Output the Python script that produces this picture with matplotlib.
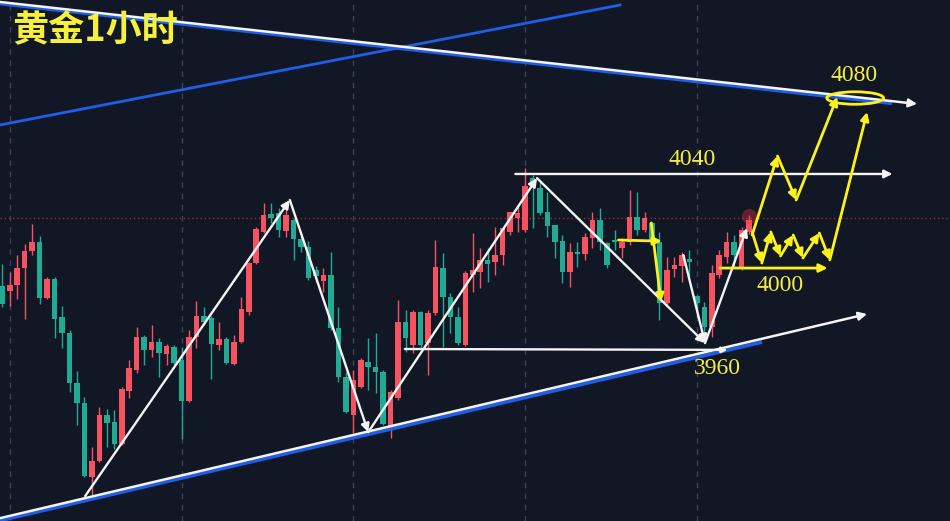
import matplotlib
matplotlib.use("Agg")
import matplotlib.pyplot as plt
from matplotlib.patches import Ellipse

# K线数据 (开, 高, 低, 收), 1小时
opens = [3988.8, 3986.5, 3989.2, 3997.0, 4004.8, 4008.9, 3983.3, 3992.0, 3974.6, 3967.3,
         3944.4, 3935.3, 3901.5, 3908.8, 3929.8, 3926.6, 3916.5, 3940.8, 3950.4, 3965.5,
         3959.5, 3963.2, 3957.7, 3960.9, 3955.0, 3936.2, 3965.5, 3975.1, 3974.1, 3961.8,
         3964.5, 3953.1, 3963.2, 3976.9, 3999.3, 4013.5, 4021.7, 4022.1, 4013.9, 4018.9,
         4010.3, 4006.6, 3996.1, 3991.1, 3993.8, 3969.6, 3947.2, 3929.8, 3942.6, 3954.0,
         3951.8, 3949.5, 3922.9, 3937.6, 3972.3, 3961.8, 3976.9, 3962.7, 3976.4, 3997.0,
         3983.7, 3974.6, 3961.8, 3993.8, 3995.2, 4000.7, 3999.7, 4003.0, 4013.5, 4019.9,
         4014.4, 4038.1, 4033.6, 4022.6, 4016.7, 4009.3, 3995.2, 4004.3, 4003.4, 4010.7,
         4018.9, 4008.4, 4009.8, 4006.1, 4008.9, 4020.3, 4014.4, 4017.6, 4008.9, 3981.0,
         3996.5, 3997.9, 4001.1, 3984.2, 3979.2, 3970.0, 3993.8, 4002.0, 4008.9, 3997.0,
         4013.5]
highs = [3998.8, 3995.2, 4003.0, 4008.0, 4017.1, 4011.6, 3992.9, 3992.9, 3979.6, 3968.7,
         3949.9, 3938.0, 3915.2, 3933.5, 3932.5, 3932.1, 3942.6, 3955.0, 3970.0, 3966.4,
         3970.9, 3965.0, 3962.3, 3961.8, 3960.9, 3968.7, 3981.9, 3979.2, 3975.1, 3972.3,
         3965.5, 3966.4, 3983.7, 3999.7, 4015.7, 4026.7, 4026.7, 4024.4, 4024.9, 4019.9,
         4011.6, 4009.3, 3997.9, 3997.0, 4004.3, 3979.2, 3949.5, 3950.4, 3955.9, 3965.0,
         3967.3, 3950.4, 3941.2, 3982.4, 3977.8, 3977.8, 3977.3, 3977.8, 4009.8, 4003.9,
         3985.6, 3979.2, 3995.6, 4013.0, 4006.1, 4006.1, 4015.7, 4015.3, 4022.6, 4025.8,
         4042.7, 4039.5, 4036.3, 4031.7, 4016.7, 4012.1, 4008.4, 4008.9, 4013.0, 4022.6,
         4024.4, 4008.9, 4014.4, 4010.7, 4032.7, 4031.7, 4022.6, 4018.0, 4013.5, 4002.0,
         4002.0, 4004.3, 4005.2, 3984.6, 3981.5, 3998.4, 4005.2, 4013.5, 4012.1, 4015.7,
         4021.2]
lows = [3979.2, 3979.6, 3982.8, 3973.7, 4003.0, 3980.5, 3982.8, 3965.0, 3960.4, 3940.3,
        3925.2, 3901.5, 3893.2, 3908.3, 3915.2, 3914.3, 3916.1, 3937.6, 3949.0, 3952.7,
        3956.3, 3947.2, 3952.7, 3952.7, 3918.8, 3935.7, 3960.4, 3970.9, 3946.3, 3959.5,
        3953.1, 3952.7, 3962.7, 3975.5, 3998.8, 4013.0, 4017.6, 4011.2, 4011.2, 4000.7,
        4004.3, 3991.5, 3990.6, 3986.0, 3968.7, 3944.9, 3930.7, 3921.6, 3942.1, 3941.2,
        3939.9, 3925.2, 3919.3, 3936.7, 3958.6, 3958.1, 3960.9, 3948.1, 3975.5, 3960.9,
        3967.3, 3961.8, 3961.3, 3986.0, 3987.9, 3990.6, 3993.8, 3998.4, 4012.1, 4013.5,
        4013.5, 4015.3, 4021.2, 4011.2, 4001.6, 3990.1, 3988.3, 3997.5, 4000.7, 4006.1,
        4005.2, 3997.0, 4005.2, 4001.6, 4007.5, 4012.1, 4013.5, 4008.4, 3973.2, 3980.1,
        3992.9, 3990.6, 3992.9, 3974.6, 3966.4, 3965.5, 3992.4, 3999.3, 3997.5, 3996.1,
        4012.5]
closes = [3980.5, 3989.2, 3997.0, 4004.8, 4008.9, 3983.3, 3992.0, 3973.7, 3967.3, 3944.4,
          3935.3, 3901.9, 3908.8, 3929.8, 3926.1, 3916.5, 3941.7, 3951.3, 3965.5, 3959.5,
          3963.2, 3958.1, 3961.3, 3953.6, 3936.2, 3965.5, 3975.1, 3972.3, 3962.3, 3964.5,
          3953.6, 3963.2, 3978.3, 3999.3, 4014.8, 4021.2, 4019.9, 4014.4, 4021.2, 4010.3,
          4006.6, 3992.4, 3993.3, 3993.8, 3969.6, 3947.2, 3931.2, 3945.8, 3955.0, 3951.8,
          3949.5, 3925.7, 3940.3, 3972.3, 3965.0, 3976.9, 3961.8, 3976.4, 3997.5, 3983.7,
          3974.6, 3962.7, 3994.7, 3996.1, 4000.7, 3998.8, 4003.0, 4015.3, 4022.6, 4022.1,
          4034.5, 4034.5, 4022.1, 4016.2, 4008.9, 3995.2, 4004.3, 4003.4, 4011.2, 4018.9,
          4008.9, 3998.4, 4008.9, 4008.9, 4020.3, 4014.4, 4019.9, 4008.9, 3981.0, 3996.1,
          3998.4, 4003.0, 3999.7, 3981.0, 3970.0, 3994.7, 4003.0, 4008.9, 4003.0, 4014.4,
          4018.9]

last_price = 4019.9
grid_idx = [1, 24, 47, 70, 93]

# 趋势线 (K线序号, 价格)
top_white_x = [-0.3, 122.5]
top_white_y = [4118.6, 4072.0]
top_blue_x = [-0.3, 118.9]
top_blue_y = [4117.8, 4072.3]
up_blue_x = [-0.3, 82.7]
up_blue_y = [4062.4, 4117.2]
low_white_x = [-0.3, 115.8]
low_white_y = [3882.7, 3976.0]
low_blue_x = [-0.3, 101.5]
low_blue_y = [3881.6, 3963.0]

# 白色走势箭头
wave_x = [11.1, 38.5, 49.0, 71.6, 94.1, 99.7]
wave_y = [3892.8, 4028.1, 3922.0, 4038.1, 3962.7, 4015.3]
sub_x = [91.2, 94.1]
sub_y = [4002.9, 3962.7]
res_x = [68.7, 119.2]
res_y = [4040.0, 4040.0]
sup_x = [53.9, 97.1]
sup_y = [3960.0, 3959.6]

# 黄色预测路径
ys_x = [82.5, 88.3]
ys_y = [4009.8, 4009.3]
yd_x = [86.9, 88.2]
yd_y = [4017.6, 3981.5]
y4000_x = [96.1, 110.5]
y4000_y = [3997.0, 3997.0]
low_path_x = [100.4, 101.7, 102.9, 104.2, 105.9, 107.2, 109.4, 110.8, 115.8]
low_path_y = [4013.5, 3999.3, 4013.5, 4002.5, 4012.1, 4001.6, 4013.0, 4000.7, 4068.3]
up_path_x = [100.4, 103.8, 106.3, 111.8]
up_path_y = [4012.1, 4048.2, 4028.1, 4075.2]

labels = ["4080", "4040", "4000", "3960"]
label_x = [114.1, 92.4, 104.1, 95.7]
label_y = [4085.2, 4046.8, 3989.2, 3951.3]

bg = "#111725"
up_c = "#f7525f"
dn_c = "#22ab94"
yel = "#fbf21c"
white = "#f4f4f4"

fig = plt.figure(figsize=(9.5, 5.21), dpi=100)
fig.patch.set_facecolor(bg)
ax = fig.add_axes([0, 0, 1, 1])
ax.set_facecolor(bg)
ax.set_xlim(-0.308, 126.9)
ax.set_ylim(3881.4, 4119.5)
ax.axis("off")

for g in grid_idx:
    ax.axvline(g, color="#3a4150", lw=1, ls=(0, (4, 4)), zorder=0)
ax.axhline(last_price, color="#c0392b", lw=1, ls=(0, (1, 2)), alpha=0.8, zorder=1)

for i in range(len(opens)):
    o, h, l, c = opens[i], highs[i], lows[i], closes[i]
    col = up_c if c >= o else dn_c
    ax.vlines(i, l, h, color=col, lw=1, zorder=2)
    bot = min(o, c)
    ht = max(abs(c - o), 0.6)
    ax.bar(i, ht, 0.74, bottom=bot, color=col, lw=0, zorder=3)

# 最新价光点
ax.scatter([100], [4021.0], s=120, color="#ff3040", alpha=0.35, lw=0, zorder=4)

ax.plot(top_blue_x, top_blue_y, color="#1f5fe8", lw=2.4, zorder=5)
ax.plot(up_blue_x, up_blue_y, color="#1f5fe8", lw=2.0, zorder=5)
ax.plot(low_blue_x, low_blue_y, color="#1f5fe8", lw=2.6, zorder=5)


def arrow(x0, y0, x1, y1, col, lw=1.7, ms=12):
    ax.annotate("", xy=(x1, y1), xytext=(x0, y0),
                arrowprops=dict(arrowstyle="-|>", color=col, lw=lw,
                                mutation_scale=ms, shrinkA=0, shrinkB=0),
                zorder=6)


def path(xs, ys, col, lw=1.7):
    for k in range(len(xs) - 1):
        arrow(xs[k], ys[k], xs[k + 1], ys[k + 1], col, lw)


arrow(top_white_x[0], top_white_y[0], top_white_x[1], top_white_y[1], white, 1.8)
arrow(low_white_x[0], low_white_y[0], low_white_x[1], low_white_y[1], white, 1.8)
path(wave_x, wave_y, white)
arrow(sub_x[0], sub_y[0], sub_x[1], sub_y[1], white)
arrow(res_x[0], res_y[0], res_x[1], res_y[1], white)
arrow(sup_x[0], sup_y[0], sup_x[1], sup_y[1], white, 1.7, 8)

arrow(ys_x[0], ys_y[0], ys_x[1], ys_y[1], yel, 2.0)
arrow(yd_x[0], yd_y[0], yd_x[1], yd_y[1], yel, 2.0)
arrow(y4000_x[0], y4000_y[0], y4000_x[1], y4000_y[1], yel, 2.0)
path(low_path_x, low_path_y, yel, 2.0)
path(up_path_x, up_path_y, yel, 2.0)

ax.add_patch(Ellipse((114.2, 4074.7), 7.6, 5.7, fill=False, ec=yel, lw=2.0, zorder=7))

for t, x, y in zip(labels, label_x, label_y):
    ax.text(x, y, t, color="#f3ee45", fontsize=17, family="Liberation Serif",
            ha="center", va="center", zorder=8)

fig.text(12 / 950, 1 - 31 / 521, "黄金1小时", color="#f6f03a", fontsize=26,
         family=["Noto Sans CJK SC", "DejaVu Sans"], fontweight="bold",
         ha="left", va="center")

fig.savefig("out.png", dpi=100, facecolor=bg)
